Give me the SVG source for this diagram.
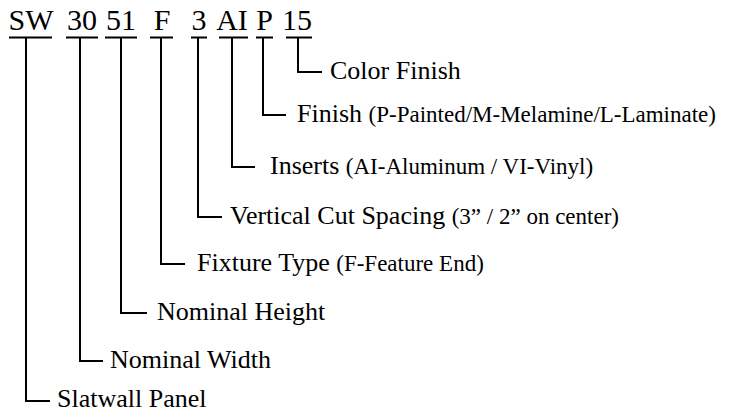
<svg xmlns="http://www.w3.org/2000/svg" width="734" height="414" viewBox="0 0 734 414">
<style>
text{font-family:"Liberation Serif","Times New Roman",serif;fill:#000}
.code{font-size:30px;text-anchor:middle}
.lbl{font-size:26px}
.sm{font-size:23px}
line,polyline{stroke:#000;stroke-width:2;fill:none}
</style>
<rect width="734" height="414" fill="#fff"/>
<g id="code">
<text class="code" x="31" y="30">SW</text>
<text class="code" x="82" y="30">30</text>
<text class="code" x="121" y="30">51</text>
<text class="code" x="162" y="30">F</text>
<text class="code" x="199" y="30">3</text>
<text class="code" x="232" y="30">AI</text>
<text class="code" x="264.5" y="30">P</text>
<text class="code" x="297" y="30">15</text>
<line x1="9" y1="37.5" x2="52" y2="37.5"/>
<line x1="66" y1="37.5" x2="98" y2="37.5"/>
<line x1="105" y1="37.5" x2="137" y2="37.5"/>
<line x1="150" y1="37.5" x2="173" y2="37.5"/>
<line x1="191" y1="37.5" x2="207" y2="37.5"/>
<line x1="219" y1="37.5" x2="248" y2="37.5"/>
<line x1="256" y1="37.5" x2="273" y2="37.5"/>
<line x1="286" y1="37.5" x2="312" y2="37.5"/>
</g>
<g id="connectors">
<polyline points="298,37.5 298,72 322,72"/>
<polyline points="263,37.5 263,115 286,115"/>
<polyline points="232,37.5 232,167 255,167"/>
<polyline points="198,37.5 198,217 222,217"/>
<polyline points="161,37.5 161,264 185,264"/>
<polyline points="121,37.5 121,313 147,313"/>
<polyline points="80,37.5 80,361 103,361"/>
<polyline points="26,37.5 26,401 50,401"/>
</g>
<g id="n-color"><text class="lbl" x="330" y="79">Color Finish</text></g>
<g id="n-finish"><text class="lbl" x="297" y="122">Finish <tspan class="sm">(P-Painted/M-Melamine/L-Laminate)</tspan></text></g>
<g id="n-inserts"><text class="lbl" x="270" y="174">Inserts <tspan class="sm">(AI-Aluminum / VI-Vinyl)</tspan></text></g>
<g id="n-vertical"><text class="lbl" x="230" y="224">Vertical Cut Spacing <tspan class="sm">(3” / 2” on center)</tspan></text></g>
<g id="n-fixture"><text class="lbl" x="197" y="271">Fixture Type <tspan class="sm">(F-Feature End)</tspan></text></g>
<g id="n-height"><text class="lbl" x="157" y="320">Nominal Height</text></g>
<g id="n-width"><text class="lbl" x="110" y="368">Nominal Width</text></g>
<g id="n-slatwall"><text class="lbl" x="57" y="407">Slatwall Panel</text></g>
</svg>
